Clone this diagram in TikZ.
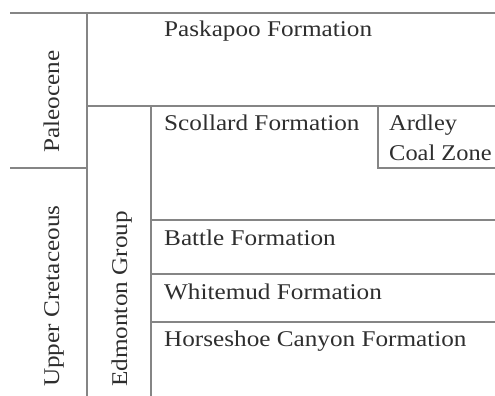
\documentclass[tikz,border=0pt]{standalone}
\usepackage{fontspec}
\setmainfont{Liberation Serif}[FakeStretch=1.12]
\begin{document}
\begin{tikzpicture}[x=1pt,y=-1pt,
  rule/.style={draw=black!48, line width=1.6pt},
  lbl/.style={inner sep=0pt, text=black!82, font=\fontsize{22.5}{26}\selectfont},
  hlbl/.style={lbl, anchor=base west},
  vlbl/.style={lbl, anchor=base west, rotate=90}]
\useasboundingbox (0,0) rectangle (495,396);
\draw[rule] (10,13) -- (495,13);
\draw[rule] (87,13) -- (87,396);
\draw[rule] (10,168) -- (87,168);
\draw[rule] (87,106) -- (495,106);
\draw[rule] (151,106) -- (151,396);
\draw[rule] (378,106) -- (378,168) -- (495,168);
\draw[rule] (151,220) -- (495,220);
\draw[rule] (151,274) -- (495,274);
\draw[rule] (151,322) -- (495,322);
\node[hlbl] (pask) at (164,37) {Paskapoo Formation};
\node[hlbl] (scol) at (164,130) {Scollard Formation};
\node[hlbl, xscale=0.97] (ard1) at (389,130) {Ardley};
\node[hlbl, xscale=0.97] (ard2) at (389,160) {Coal Zone};
\node[hlbl] (batt) at (164,245) {Battle Formation};
\node[hlbl] (whit) at (164,299) {Whitemud Formation};
\node[hlbl] (hors) at (164,346) {Horseshoe Canyon Formation};
\node[vlbl] (pal) at (59,153) {Paleocene};
\node[vlbl] (ucr) at (59,387) {Upper Cretaceous};
\node[vlbl] (edm) at (127,387) {Edmonton Group};
\end{tikzpicture}
\end{document}
